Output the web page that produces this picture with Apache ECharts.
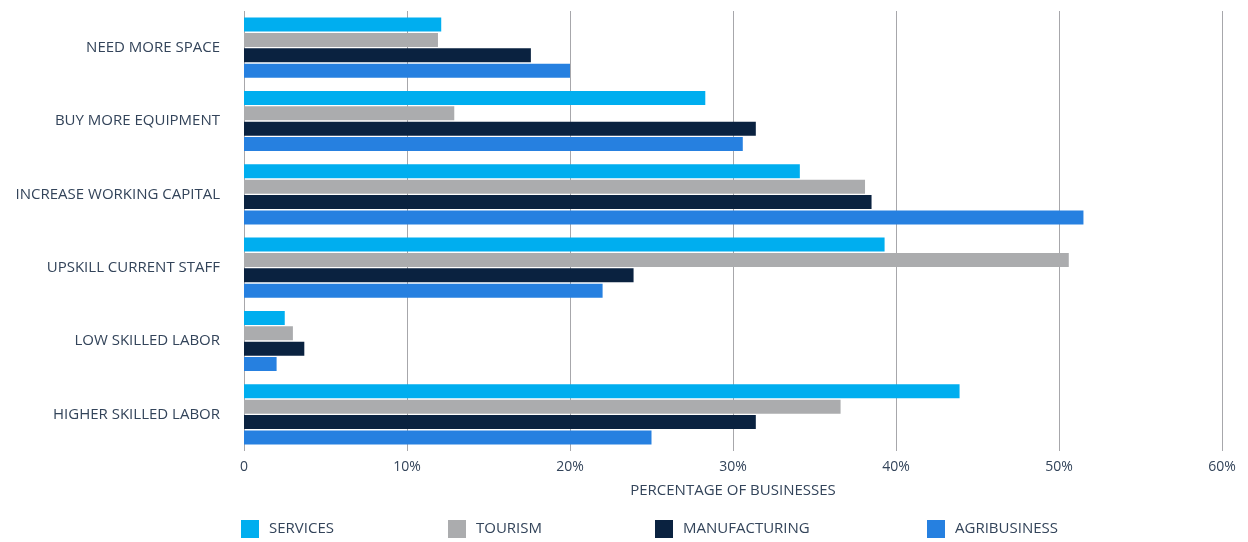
<!DOCTYPE html>
<html>
<head>
<meta charset="utf-8">
<script src="https://cdn.jsdelivr.net/npm/echarts@6/dist/echarts.min.js"></script>
<style>
  html, body { margin: 0; padding: 0; background: #ffffff; }
  #chart { width: 1248px; height: 542px; }
</style>
</head>
<body>
<div id="chart"></div>
<script>
// Reasons businesses would use additional finance, by sector (% of businesses)
const categories = [
  'NEED MORE SPACE',
  'BUY MORE EQUIPMENT',
  'INCREASE WORKING CAPITAL',
  'UPSKILL CURRENT STAFF',
  'LOW SKILLED LABOR',
  'HIGHER SKILLED LABOR'
];
const seriesNames = ['SERVICES', 'TOURISM', 'MANUFACTURING', 'AGRIBUSINESS'];
const services      = [12.1, 28.3, 34.1, 39.3, 2.5, 43.9];
const tourism       = [11.9, 12.9, 38.1, 50.6, 3.0, 36.6];
const manufacturing = [17.6, 31.4, 38.5, 23.9, 3.7, 31.4];
const agribusiness  = [20.0, 30.6, 51.5, 22.0, 2.0, 25.0];
const xTicks = [0, 10, 20, 30, 40, 50, 60];

const colors = ['#00AEEF', '#ABACAE', '#0A2240', '#2680E0'];
const values = [services, tourism, manufacturing, agribusiness];
const textColor = '#33445a';
const fontFamily = '"Open Sans", "Noto Sans", sans-serif';

const legendLefts = [236, 443, 650, 922];

const chart = echarts.init(document.getElementById('chart'), null, { renderer: 'canvas' });
chart.setOption({
  animation: false,
  textStyle: { fontFamily: fontFamily },
  grid: { left: 244, right: 26, top: 11, bottom: 91, containLabel: false },
  legend: seriesNames.map((name, i) => ({
    data: [name],
    left: legendLefts[i],
    top: 515,
    itemWidth: 18,
    itemHeight: 18,
    itemGap: 10,
    icon: 'rect',
    selectedMode: false,
    textStyle: { color: textColor, fontSize: 15, fontFamily: fontFamily, padding: [5, 0, 0, 5] }
  })),
  xAxis: {
    type: 'value',
    min: xTicks[0],
    max: xTicks[xTicks.length - 1],
    interval: 10,
    name: 'PERCENTAGE OF BUSINESSES',
    nameLocation: 'middle',
    nameGap: 32,
    nameTextStyle: { color: textColor, fontSize: 15, fontFamily: fontFamily },
    axisLine: { show: false },
    axisTick: { show: false },
    axisLabel: {
      color: textColor,
      fontSize: 14,
      margin: 9,
      formatter: v => (v === 0 ? '0' : v + '%')
    },
    splitLine: { show: true, lineStyle: { color: '#a7a7ab', width: 1 } }
  },
  yAxis: {
    type: 'category',
    data: categories,
    inverse: true,
    axisLine: { show: false },
    axisTick: { show: false },
    axisLabel: { color: textColor, fontSize: 15, margin: 24 }
  },
  series: seriesNames.map((name, i) => ({
    name: name,
    type: 'bar',
    data: values[i],
    barWidth: 14,
    barGap: '10%',
    itemStyle: { color: colors[i] }
  }))
});
</script>
</body>
</html>
